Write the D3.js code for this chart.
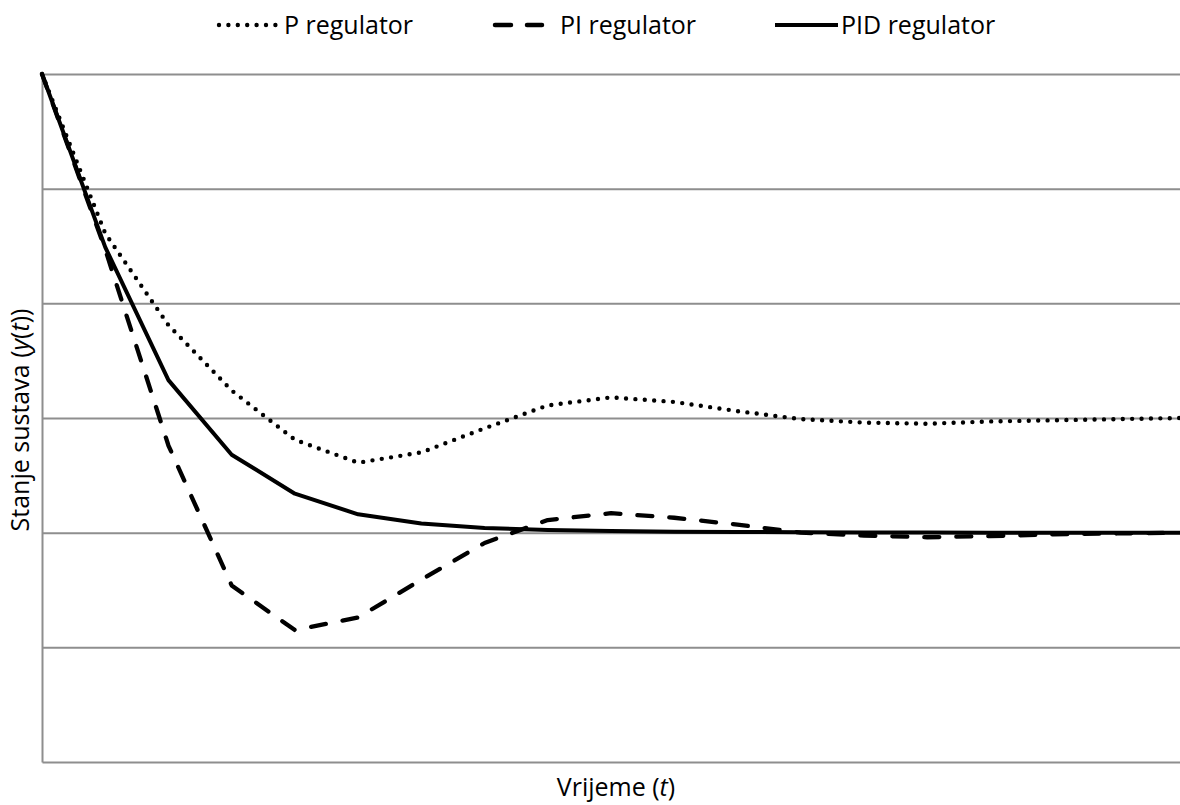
<!DOCTYPE html>
<html>
<head>
<meta charset="utf-8">
<script src="https://cdn.jsdelivr.net/npm/d3@7"></script>
<style>
  html, body { margin: 0; padding: 0; background: #fff; }
  svg { display: block; }
  text { font-family: "Open Sans", "DejaVu Sans", sans-serif; fill: #000; }
</style>
</head>
<body>
<svg id="chart" width="1180" height="805"></svg>
<script>
// Sampling instants of the simulated step response
const timeSteps = [0, 1, 2, 3, 4, 5, 6, 7, 8, 9, 10, 11, 12, 13, 14, 15, 16, 17, 18];

// System state y(t) for each controller type
const pRegulator   = [6.0, 4.61, 3.81, 3.24, 2.81, 2.61, 2.70, 2.91, 3.11, 3.18, 3.14, 3.06, 2.99, 2.96, 2.95, 2.97, 2.98, 2.99, 3.0];
const piRegulator  = [6.0, 4.47, 2.76, 1.54, 1.15, 1.26, 1.59, 1.91, 2.11, 2.17, 2.13, 2.07, 2.0, 1.975, 1.96, 1.97, 1.985, 1.993, 2.0];
const pidRegulator = [6.0, 4.49, 3.33, 2.68, 2.34, 2.16, 2.08, 2.04, 2.024, 2.015, 2.009, 2.006, 2.003, 2.002, 2.001, 2.0, 2.0, 2.0, 2.0];

// Horizontal grid levels
const gridLevels = [1, 2, 3, 4, 5, 6];

const seriesNames = ["P regulator", "PI regulator", "PID regulator"];

const svg = d3.select("#chart");
const plot = { left: 42, right: 1180, top: 74, bottom: 762 };

const x = d3.scaleLinear().domain([0, 18]).range([plot.left, plot.right]);
const y = d3.scaleLinear().domain([0, 6]).range([plot.bottom, plot.top]);

const gridColor = "#8e8e8e";
const fontSize = 25;

// Gridlines
const yAxis = d3.axisLeft(y).tickValues(gridLevels).tickSize(-(plot.right - plot.left)).tickFormat("");
svg.append("g")
  .attr("transform", `translate(${plot.left},0)`)
  .call(yAxis)
  .call(g => g.select(".domain").remove())
  .call(g => g.selectAll(".tick line").attr("stroke", gridColor).attr("stroke-width", 2));

// Axis lines (no tick labels)
const xAxis = d3.axisBottom(x).tickValues([]).tickSizeOuter(0);
svg.append("g")
  .attr("transform", `translate(0,${plot.bottom})`)
  .call(xAxis)
  .call(g => g.select(".domain").attr("stroke", gridColor).attr("stroke-width", 2));

svg.append("g")
  .attr("transform", `translate(${plot.left},0)`)
  .call(d3.axisLeft(y).tickValues([]).tickSizeOuter(0))
  .call(g => g.select(".domain").attr("stroke", gridColor).attr("stroke-width", 2));

const styles = [
  { data: pRegulator,   width: 4.4, dash: "0 9.4",  cap: "round" },
  { data: piRegulator,  width: 4.3, dash: "15 17",  cap: "round" },
  { data: pidRegulator, width: 4,   dash: null,     cap: "butt" }
];

const line = d3.line()
  .x((d, i) => x(timeSteps[i]))
  .y(d => y(d));

styles.forEach(s => {
  svg.append("path")
    .datum(s.data)
    .attr("d", line)
    .attr("fill", "none")
    .attr("stroke", "#000")
    .attr("stroke-width", s.width)
    .attr("stroke-linecap", s.cap)
    .attr("stroke-linejoin", "round")
    .attr("stroke-dasharray", s.dash);
});

// Legend
const legendItems = [
  { name: seriesNames[0], x1: 219, x2: 278, textX: 284, style: styles[0] },
  { name: seriesNames[1], x1: 495, x2: 542, textX: 560, style: { width: 4.5, dash: "16 16", cap: "round" } },
  { name: seriesNames[2], x1: 775, x2: 838, textX: 841, style: styles[2] }
];
const legendY = 25;
const legend = svg.append("g");
legendItems.forEach(it => {
  legend.append("line")
    .attr("x1", it.x1).attr("x2", it.x2)
    .attr("y1", legendY).attr("y2", legendY)
    .attr("stroke", "#000")
    .attr("stroke-width", it.style.width)
    .attr("stroke-linecap", it.style.cap)
    .attr("stroke-dasharray", it.style.dash);
  legend.append("text")
    .attr("x", it.textX).attr("y", legendY + 9)
    .attr("font-size", fontSize)
    .text(it.name);
});

// Axis titles
const xTitle = svg.append("text")
  .attr("x", (plot.left + plot.right) / 2 + 5)
  .attr("y", 796)
  .attr("text-anchor", "middle")
  .attr("font-size", fontSize);
xTitle.append("tspan").text("Vrijeme (");
xTitle.append("tspan").attr("font-style", "italic").text("t");
xTitle.append("tspan").text(")");

const yTitle = svg.append("text")
  .attr("transform", `translate(29,${(plot.top + plot.bottom) / 2 + 2}) rotate(-90)`)
  .attr("text-anchor", "middle")
  .attr("font-size", fontSize);
yTitle.append("tspan").text("Stanje sustava (");
yTitle.append("tspan").attr("font-style", "italic").text("y");
yTitle.append("tspan").text("(");
yTitle.append("tspan").attr("font-style", "italic").text("t");
yTitle.append("tspan").text("))");
</script>
</body>
</html>
